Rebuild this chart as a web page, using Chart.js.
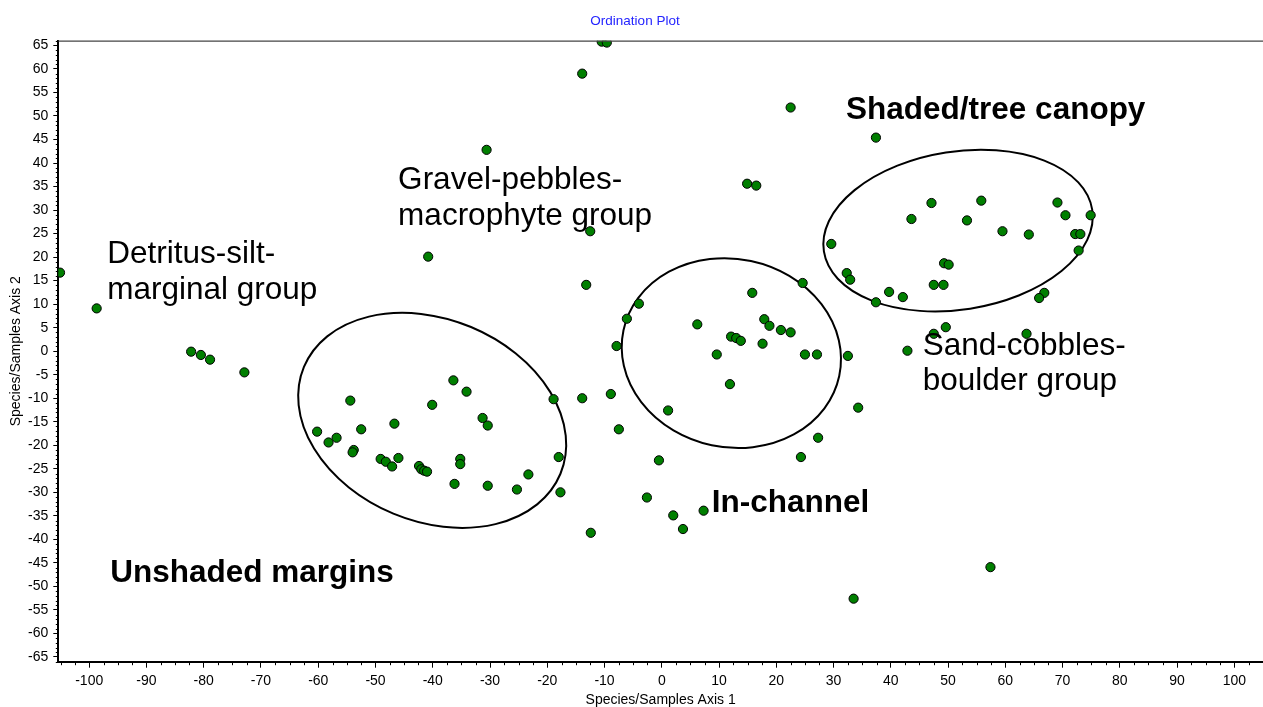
<!DOCTYPE html>
<html><head><meta charset="utf-8">
<script src="https://cdn.jsdelivr.net/npm/chart.js@4.4.1/dist/chart.umd.min.js"></script>
<style>html,body{margin:0;padding:0;background:#fff;overflow:hidden}#wrap{width:1263px;height:707px}</style>
</head><body><div id="wrap"><canvas id="c" width="1263" height="707"></canvas></div>
<script>
// Sample scores on ordination axis 1 and axis 2
const axis1Scores = [
  -105.1, -98.7, -82.2, -80.5, -78.9, -72.9,
  -36.4, -34.1, -54.4, -40.1, -18.9, -31.3, -30.4, -46.7, -52.5, -60.2, -56.8, -58.2, -53.8, -54.0,
  -49.1, -48.2, -47.1, -46.0, -42.4, -42.0, -41.5, -41.0, -35.2, -35.2, -36.2, -30.4, -25.3, -23.3, -18.0, -17.7,
  -12.4, -13.9, -40.8, -13.2, -12.5, -4.0, -6.1, -7.9, -8.9, -7.5, -0.5, -2.6, 1.1, 2.0, 3.7, 7.3,
  11.9, 15.8, 24.6, 6.2, 17.9, 18.8, 20.8, 22.5, 12.1, 13.0, 13.8, 17.6, 9.6, 25.0, 27.1, 32.5, 24.3, 27.3, 34.3,
  -10.5, -9.6, -13.9, 22.5, -30.6, 14.9, 16.5,
  29.6, 32.3, 32.9, 37.4, 47.1, 55.8, 69.1, 70.5, 74.9, 43.6, 53.3, 59.5, 64.1, 72.2, 73.1, 72.8,
  49.3, 50.1, 39.7, 42.1, 37.4, 47.5, 49.2, 66.8, 65.9, 49.6, 47.5, 63.7, 42.9, 33.5, 57.4
];
const axis2Scores = [
  16.7, 9.1, -0.1, -0.8, -1.8, -4.5,
  -6.2, -8.6, -10.5, -11.4, -10.2, -14.2, -15.8, -15.4, -16.6, -17.1, -18.4, -19.4, -21.0, -21.5,
  -22.9, -23.5, -24.5, -22.7, -24.4, -25.1, -25.4, -25.6, -22.9, -24.0, -28.2, -28.6, -29.4, -26.2, -22.5, -30.0,
  -38.6, -10.0, 20.1, 14.1, 25.5, 10.1, 6.9, 1.1, -9.1, -16.6, -23.2, -31.1, -12.6, -34.9, -37.8, -33.9,
  -7.0, 12.4, 14.5, 5.7, 6.8, 5.4, 4.5, 4.0, 3.1, 2.8, 2.2, 1.6, -0.7, -0.7, -0.7, -1.0, -22.5, -18.4, -12.0,
  65.8, 65.6, 59.0, 51.8, 42.8, 35.6, 35.2,
  22.8, 16.6, 15.2, 45.4, 31.5, 32.0, 31.6, 28.9, 28.9, 28.1, 27.8, 25.5, 24.8, 24.9, 24.9, 21.4,
  18.7, 18.4, 12.6, 11.5, 10.4, 14.1, 14.1, 12.4, 11.3, 5.1, 3.7, 3.7, 0.1, -52.6, -45.9
];
const xTickValues = [-100, -90, -80, -70, -60, -50, -40, -30, -20, -10, 0, 10, 20, 30, 40, 50, 60, 70, 80, 90, 100];
const yTickValues = [-65, -60, -55, -50, -45, -40, -35, -30, -25, -20, -15, -10, -5, 0, 5, 10, 15, 20, 25, 30, 35, 40, 45, 50, 55, 60, 65];

// Group ellipses in axis units: centre and two conjugate semi-axis vectors
const ellipseCentres = [[-40.1, -14.7], [12.15, -0.4], [51.74, 25.64]];
const ellipseAxisU = [[22.4, -11.35], [18.84, -4.87], [23.43, 4.44]];
const ellipseAxisV = [[-6.78, -19.84], [-3.42, -19.58], [2.12, -16.6]];

// Group labels, anchored in axis units (left, baseline of first line)
const labelTexts = [
  ['Detritus-silt-', 'marginal group'],
  ['Gravel-pebbles-', 'macrophyte group'],
  ['Sand-cobbles-', 'boulder group'],
  ['Unshaded margins'],
  ['Shaded/tree canopy'],
  ['In-channel']
];
const labelAnchors = [[-96.86, 18.73], [-46.05, 34.47], [45.57, -0.77], [-96.33, -48.97], [32.18, 49.41], [8.73, -34.08]];
const labelBold = [false, false, false, true, true, true];

const FONT = "'Liberation Sans', Arial, sans-serif";

const decor = {
  id: 'decor',
  beforeDatasetsDraw(chart) {
    const {ctx, scales: {x, y}} = chart;
    ctx.save();
    ctx.strokeStyle = '#000';
    ctx.lineWidth = 2;
    for (let i = 0; i < ellipseCentres.length; i++) {
      const [ecx, ecy] = ellipseCentres[i];
      const cx = x.getPixelForValue(ecx), cy = y.getPixelForValue(ecy);
      const ux = x.getPixelForValue(ecx + ellipseAxisU[i][0]) - cx;
      const uy = y.getPixelForValue(ecy + ellipseAxisU[i][1]) - cy;
      const vx = x.getPixelForValue(ecx + ellipseAxisV[i][0]) - cx;
      const vy = y.getPixelForValue(ecy + ellipseAxisV[i][1]) - cy;
      ctx.save();
      ctx.beginPath();
      ctx.transform(ux, uy, vx, vy, cx, cy);
      ctx.arc(0, 0, 1, 0, Math.PI * 2);
      ctx.restore();
      ctx.stroke();
    }
    ctx.restore();
  },
  afterDatasetsDraw(chart) {
    const {ctx, scales: {x, y}} = chart;
    ctx.save();
    ctx.fillStyle = '#000';
    ctx.textBaseline = 'alphabetic';
    ctx.textAlign = 'left';
    for (let i = 0; i < labelTexts.length; i++) {
      ctx.font = (labelBold[i] ? 'bold ' : '') + '31.5px ' + FONT;
      const px = x.getPixelForValue(labelAnchors[i][0]);
      const py = y.getPixelForValue(labelAnchors[i][1]);
      labelTexts[i].forEach((t, j) => ctx.fillText(t, px, py + j * 35.5));
    }
    ctx.restore();
  },
  afterDraw(chart) {
    const {ctx, chartArea: a, scales: {x, y}} = chart;
    ctx.save();
    // top frame line
    ctx.strokeStyle = '#444';
    ctx.lineWidth = 1.2;
    ctx.beginPath();
    ctx.moveTo(a.left, a.top + 0.5);
    ctx.lineTo(a.right, a.top + 0.5);
    ctx.stroke();
    // minor ticks
    ctx.strokeStyle = '#000';
    ctx.lineWidth = 1;
    ctx.beginPath();
    for (let v = Math.ceil(x.min / 2.5) * 2.5; v <= x.max; v += 2.5) {
      if (Math.abs(v % 10) < 1e-6) continue;
      const px = Math.round(x.getPixelForValue(v)) + 0.5;
      ctx.moveTo(px, a.bottom);
      ctx.lineTo(px, a.bottom + 3.5);
    }
    for (let v = Math.ceil(y.min); v <= y.max; v += 1) {
      if (Math.abs(v % 5) < 1e-6) continue;
      const py = Math.round(y.getPixelForValue(v)) + 0.5;
      ctx.moveTo(a.left, py);
      ctx.lineTo(a.left - 2.5, py);
    }
    ctx.stroke();
    ctx.restore();
  }
};

new Chart(document.getElementById('c'), {
  type: 'scatter',
  data: {
    datasets: [{
      data: axis1Scores.map((v, i) => ({x: v, y: axis2Scores[i]})),
      backgroundColor: '#007f00',
      borderColor: '#000',
      borderWidth: 1,
      pointRadius: 4.6,
      pointHoverRadius: 4.6,
      clip: 0
    }]
  },
  options: {
    responsive: false,
    animation: false,
    devicePixelRatio: 1,
    layout: {padding: {left: 7, right: 0, top: 0, bottom: 0}, autoPadding: false},
    events: [],
    plugins: {
      legend: {display: false},
      tooltip: {enabled: false},
      title: {
        display: true,
        text: 'Ordination Plot',
        color: '#2424ff',
        font: {family: FONT, size: 13.5, weight: 'normal', lineHeight: 1.2},
        padding: {top: 13, bottom: 11.5}
      }
    },
    scales: {
      x: {
        type: 'linear',
        min: -105.4,
        max: 105,
        afterFit(s) { s.height = 45.3; s.paddingLeft = 0; s.paddingRight = 0; },
        afterBuildTicks(s) { s.ticks = xTickValues.map(v => ({value: v})); },
        grid: {display: true, drawOnChartArea: false, drawTicks: true, tickLength: 6, tickColor: '#000', tickWidth: 1},
        border: {display: true, color: '#000', width: 2},
        ticks: {color: '#000', font: {family: FONT, size: 14}, padding: 5, maxRotation: 0, autoSkip: false},
        title: {display: true, text: 'Species/Samples Axis 1', color: '#000', font: {family: FONT, size: 14, lineHeight: 1}, padding: 0}
      },
      y: {
        type: 'linear',
        min: -66,
        max: 66,
        afterFit(s) { s.width = 51.3; s.paddingTop = 0; s.paddingBottom = 0; },
        afterBuildTicks(s) { s.ticks = yTickValues.map(v => ({value: v})); },
        grid: {display: true, drawOnChartArea: false, drawTicks: true, tickLength: 5, tickColor: '#000', tickWidth: 1},
        border: {display: true, color: '#000', width: 2},
        ticks: {color: '#000', font: {family: FONT, size: 14}, padding: 5, autoSkip: false},
        title: {display: true, text: 'Species/Samples Axis 2', color: '#000', font: {family: FONT, size: 14, lineHeight: 1.2}, padding: {top: 0.6, bottom: 0}}
      }
    }
  },
  plugins: [decor]
});
</script>
</body></html>
